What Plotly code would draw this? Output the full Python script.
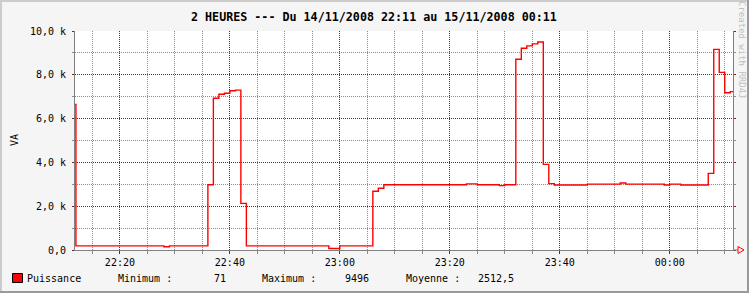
import plotly.graph_objects as go

# ---- data ----
times = [
    "2008-11-14 22:11", "2008-11-14 22:12", "2008-11-14 22:28", "2008-11-14 22:29",
    "2008-11-14 22:36", "2008-11-14 22:37", "2008-11-14 22:38", "2008-11-14 22:39",
    "2008-11-14 22:40", "2008-11-14 22:41", "2008-11-14 22:42", "2008-11-14 22:43",
    "2008-11-14 22:58", "2008-11-14 23:00", "2008-11-14 23:06", "2008-11-14 23:07",
    "2008-11-14 23:08", "2008-11-14 23:23", "2008-11-14 23:25", "2008-11-14 23:29",
    "2008-11-14 23:30", "2008-11-14 23:32", "2008-11-14 23:33", "2008-11-14 23:34",
    "2008-11-14 23:35", "2008-11-14 23:36", "2008-11-14 23:37", "2008-11-14 23:38",
    "2008-11-14 23:39", "2008-11-14 23:45", "2008-11-14 23:51", "2008-11-14 23:52",
    "2008-11-14 23:59", "2008-11-15 00:00", "2008-11-15 00:02", "2008-11-15 00:07",
    "2008-11-15 00:08", "2008-11-15 00:09", "2008-11-15 00:10", "2008-11-15 00:11",
    "2008-11-15 00:11:40",
]
puissance = [
    6650, 190, 150, 190,
    2980, 6930, 7110, 7160,
    7270, 7300, 2130, 190,
    71, 190, 2680, 2820,
    2980, 3020, 2980, 2940,
    2980, 8710, 9210, 9320,
    9410, 9496, 3910, 3030,
    2970, 3010, 3060, 3010,
    2970, 3010, 2970, 3500,
    9160, 8110, 7180, 7230,
    7230,
]
x_tick_vals = ["2008-11-14 22:20", "2008-11-14 22:40", "2008-11-14 23:00",
               "2008-11-14 23:20", "2008-11-14 23:40", "2008-11-15 00:00"]
x_tick_text = ["22:20", "22:40", "23:00", "23:20", "23:40", "00:00"]
y_tick_vals = [0, 2000, 4000, 6000, 8000, 10000]
y_tick_text = ["0,0", "2,0 k", "4,0 k", "6,0 k", "8,0 k", "10,0 k"]
x_range = ["2008-11-14 22:11:50", "2008-11-15 00:11:30"]
y_range = [0, 10000]

title_text = "2 HEURES --- Du 14/11/2008 22:11 au 15/11/2008 00:11"
series_name = "Puissance"
stat_labels = ["Minimum :", "Maximum :", "Moyenne :"]
stat_values = ["71", "9496", "2512,5"]

# ---- style ----
W, H = 749, 293
L, R, T, B = 75, 16, 31, 43
PW, PH = W - L - R, H - T - B
BACK = "#F5F5F5"
SHADEA = "#CCCCCC"
SHADEB = "#999999"
GRID = "rgb(140,140,140)"
MGRID = "rgb(130,30,30)"
AXIS = "#808080"
MONO = "DejaVu Sans Mono"


def px(xp):
    return (xp - L) / PW


def py(yp):
    return (H - B - yp) / PH


fig = go.Figure()
fig.add_trace(go.Scatter(
    x=times, y=puissance, mode="lines", line=dict(shape="hv", color="#FF0000", width=1.4),
    hoverinfo="skip", showlegend=False,
))

fig.update_layout(
    width=W, height=H, margin=dict(l=L, r=R, t=T, b=B, pad=0),
    paper_bgcolor=BACK, plot_bgcolor="#FFFFFF",
    font=dict(family=MONO, size=10, color="#000000"),
    showlegend=False,
)
fig.update_xaxes(
    type="date", range=x_range, tickmode="array", tickvals=x_tick_vals, ticktext=x_tick_text,
    showgrid=True, gridcolor=MGRID, griddash="1px,1px", gridwidth=1,
    showline=True, linecolor=AXIS, linewidth=1, mirror=False,
    ticks="outside", ticklen=3, tickcolor=MGRID, tickwidth=1,
    tickfont=dict(family=MONO, size=10), zeroline=False,
    minor=dict(dtick=300000, tick0="2008-11-14 22:20", showgrid=True, gridcolor=GRID,
               griddash="1px,1px", gridwidth=1, ticks="outside", ticklen=3,
               tickcolor=GRID, tickwidth=1),
)
fig.update_yaxes(
    range=y_range, tickmode="array", tickvals=y_tick_vals, ticktext=y_tick_text,
    showgrid=True, gridcolor=MGRID, griddash="1px,1px", gridwidth=1,
    showline=True, linecolor=AXIS, linewidth=1, mirror="ticks",
    ticks="outside", ticklen=2, tickcolor=MGRID, tickwidth=1,
    tickfont=dict(family=MONO, size=10), zeroline=False, ticklabelstandoff=4,
    minor=dict(dtick=1000, showgrid=True, gridcolor=GRID, griddash="1px,1px", gridwidth=1,
               ticks="outside", ticklen=2, tickcolor=GRID, tickwidth=1),
)

shapes = []
# 3D frame
shapes.append(dict(type="rect", xref="paper", yref="paper", x0=px(0), x1=px(W), y0=py(0), y1=py(2),
                   fillcolor=SHADEA, line=dict(width=0), layer="below"))
shapes.append(dict(type="rect", xref="paper", yref="paper", x0=px(0), x1=px(2), y0=py(0), y1=py(H),
                   fillcolor=SHADEA, line=dict(width=0), layer="below"))
shapes.append(dict(type="rect", xref="paper", yref="paper", x0=px(0), x1=px(W), y0=py(H - 2), y1=py(H),
                   fillcolor=SHADEB, line=dict(width=0), layer="below"))
shapes.append(dict(type="rect", xref="paper", yref="paper", x0=px(W - 2), x1=px(W), y0=py(0), y1=py(H),
                   fillcolor=SHADEB, line=dict(width=0), layer="below"))
# x axis extension and arrow
shapes.append(dict(type="line", xref="paper", yref="paper", x0=px(733), x1=px(738), y0=py(250), y1=py(250),
                   line=dict(color=AXIS, width=1)))
shapes.append(dict(type="path", xref="paper", yref="paper",
                   path=f"M {px(738)} {py(246.5)} L {px(744)} {py(250)} L {px(738)} {py(253.5)} Z",
                   line=dict(color="#FF0000", width=1), fillcolor="rgba(0,0,0,0)"))
# legend swatch
shapes.append(dict(type="rect", xref="paper", yref="paper", x0=px(12.5), x1=px(22.5), y0=py(273.5), y1=py(282.5),
                   fillcolor="#FF0000", line=dict(color="#000000", width=1)))
fig.update_layout(shapes=shapes)

ann = []
ann.append(dict(text=f"<b>{title_text}</b>", xref="paper", yref="paper", x=px(374), y=py(17),
                xanchor="center", yanchor="middle", showarrow=False,
                font=dict(family=MONO, size=11.7, color="#000000")))
ann.append(dict(text="VA", xref="paper", yref="paper", x=px(14), y=py(140), textangle=-90,
                xanchor="center", yanchor="middle", showarrow=False, font=dict(family=MONO, size=10)))
ann.append(dict(text="Created with RRD4J", xref="paper", yref="paper", x=px(742), y=py(50), textangle=90,
                xanchor="center", yanchor="middle", showarrow=False,
                font=dict(family=MONO, size=9, color="#C0C0C0")))
legend_x = [25, 115.5, 211.5, 259.5, 343, 403.5, 476]
legend_txt = [series_name, stat_labels[0], stat_values[0], stat_labels[1], stat_values[1],
              stat_labels[2], stat_values[2]]
for lx, lt in zip(legend_x, legend_txt):
    ann.append(dict(text=lt, xref="paper", yref="paper", x=px(lx), y=py(278.5), xanchor="left",
                    yanchor="middle", showarrow=False, font=dict(family=MONO, size=10)))
fig.update_layout(annotations=ann)

fig.write_html("out.html")
